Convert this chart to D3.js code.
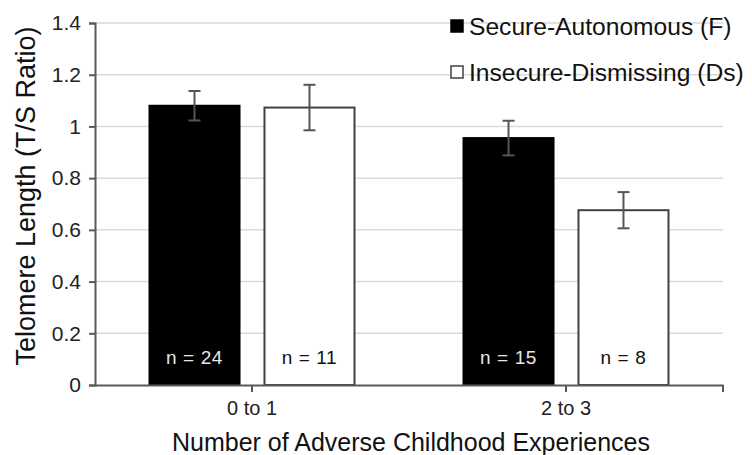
<!DOCTYPE html>
<html>
<head>
<meta charset="utf-8">
<script src="https://cdn.jsdelivr.net/npm/d3@7"></script>
<style>
  body { margin: 0; background: #fff; }
  svg text { font-family: Arial, "Liberation Sans", sans-serif; }
</style>
</head>
<body>
<div id="chart"></div>
<script>
const categories = ["0 to 1", "2 to 3"];
const seriesNames = ["Secure-Autonomous (F)", "Insecure-Dismissing (Ds)"];
const secureValues = [1.08, 0.955];
const secureErrors = [0.057, 0.067];
const secureCounts = ["n = 24", "n = 15"];
const dismissValues = [1.073, 0.676];
const dismissErrors = [0.088, 0.07];
const dismissCounts = ["n = 11", "n = 8"];
const yTicks = [0, 0.2, 0.4, 0.6, 0.8, 1, 1.2, 1.4];

const width = 752;
const height = 455;
const margin = { top: 23, right: 29, bottom: 70, left: 95 };

const svg = d3.select("#chart")
    .append("svg")
    .attr("width", width)
    .attr("height", height);

const x = d3.scaleBand()
    .domain(categories)
    .range([margin.left, width - margin.right]);

// two bars of ~90px with a 25px gap in each group
const groupWidth = 205;
const sub = d3.scaleBand()
    .domain(seriesNames)
    .range([0, groupWidth])
    .paddingInner(0.217);

const y = d3.scaleLinear()
    .domain([0, 1.4])
    .range([height - margin.bottom, margin.top]);

// gridlines
svg.append("g")
    .selectAll("line")
    .data(yTicks.slice(1))
    .join("line")
    .attr("x1", margin.left)
    .attr("x2", width - margin.right)
    .attr("y1", d => y(d))
    .attr("y2", d => y(d))
    .attr("stroke", "#d9d9d9")
    .attr("stroke-width", 1.5);

// y axis
const yAxis = svg.append("g")
    .attr("transform", `translate(${margin.left},0)`)
    .call(d3.axisLeft(y).tickValues(yTicks).tickFormat(d => d3.format("")(+d.toFixed(1))).tickSize(6).tickPadding(8));
yAxis.select(".domain").attr("stroke", "#595959").attr("stroke-width", 2);
yAxis.selectAll(".tick line").attr("stroke", "#595959").attr("stroke-width", 2);
yAxis.selectAll(".tick text").attr("font-size", 21).attr("fill", "#222");

const rows = categories.map((c, i) => ({
    cat: c,
    bars: [
        { name: seriesNames[0], v: secureValues[i], e: secureErrors[i], n: secureCounts[i] },
        { name: seriesNames[1], v: dismissValues[i], e: dismissErrors[i], n: dismissCounts[i] }
    ]
}));

const groups = svg.append("g")
    .selectAll("g")
    .data(rows)
    .join("g")
    .attr("transform", d => `translate(${x(d.cat) + x.bandwidth() / 2 - groupWidth / 2},0)`);

groups.selectAll("rect")
    .data(d => d.bars)
    .join("rect")
    .attr("x", d => sub(d.name))
    .attr("width", sub.bandwidth())
    .attr("y", d => y(d.v))
    .attr("height", d => y(0) - y(d.v))
    .attr("fill", (d, i) => i === 0 ? "#000" : "#fff")
    .attr("stroke", (d, i) => i === 0 ? "#000" : "#404040")
    .attr("stroke-width", 2);

// error bars
const err = groups.selectAll("g.err")
    .data(d => d.bars)
    .join("g")
    .attr("class", "err")
    .attr("stroke", "#555")
    .attr("stroke-width", 2);
const cx = d => sub(d.name) + sub.bandwidth() / 2;
err.append("line")
    .attr("x1", cx)
    .attr("x2", cx)
    .attr("y1", d => y(d.v + d.e))
    .attr("y2", d => y(d.v - d.e));
err.append("line")
    .attr("x1", d => cx(d) - 6)
    .attr("x2", d => cx(d) + 6)
    .attr("y1", d => y(d.v + d.e))
    .attr("y2", d => y(d.v + d.e));
err.append("line")
    .attr("x1", d => cx(d) - 6)
    .attr("x2", d => cx(d) + 6)
    .attr("y1", d => y(d.v - d.e))
    .attr("y2", d => y(d.v - d.e));

// n labels
groups.selectAll("text.n")
    .data(d => d.bars)
    .join("text")
    .attr("class", "n")
    .attr("x", cx)
    .attr("y", y(0) - 21)
    .attr("text-anchor", "middle")
    .attr("font-size", 19)
    .attr("letter-spacing", 0.6)
    .attr("fill", (d, i) => i === 0 ? "#e6e6e6" : "#111")
    .text(d => d.n);

// x axis
const xAxis = svg.append("g")
    .attr("transform", `translate(0,${y(0)})`)
    .call(d3.axisBottom(x).tickSize(0).tickPadding(16));
xAxis.select(".domain").attr("stroke", "#595959").attr("stroke-width", 2);
xAxis.selectAll(".tick text").attr("font-size", 20).attr("fill", "#222");
svg.append("g")
    .selectAll("line")
    .data(categories.map(c => x(c) + x.bandwidth() / 2).concat([x.range()[1]]))
    .join("line")
    .attr("x1", d => d)
    .attr("x2", d => d)
    .attr("y1", y(0))
    .attr("y2", y(0) + 7)
    .attr("stroke", "#595959")
    .attr("stroke-width", 2);

// axis titles
svg.append("text")
    .attr("x", (margin.left + width - margin.right) / 2 + 2)
    .attr("y", 451)
    .attr("text-anchor", "middle")
    .attr("font-size", 25)
    .attr("fill", "#111")
    .text("Number of Adverse Childhood Experiences");

svg.append("text")
    .attr("transform", `translate(35,196) rotate(-90)`)
    .attr("text-anchor", "middle")
    .attr("font-size", 27)
    .attr("fill", "#111")
    .text("Telomere Length (T/S Ratio)");

// legend
const legend = svg.append("g")
    .attr("transform", "translate(450,0)");
const li = legend.selectAll("g")
    .data(seriesNames)
    .join("g")
    .attr("transform", (d, i) => `translate(0,${26 + i * 46})`);
li.append("rect")
    .attr("x", 1)
    .attr("y", -6)
    .attr("width", 12)
    .attr("height", 12)
    .attr("fill", (d, i) => i === 0 ? "#000" : "#fff")
    .attr("stroke", (d, i) => i === 0 ? "#000" : "#404040")
    .attr("stroke-width", 1.5);
li.append("text")
    .attr("x", 19)
    .attr("y", 9)
    .attr("font-size", 24.6)
    .attr("fill", "#111")
    .text(d => d);
</script>
</body>
</html>
